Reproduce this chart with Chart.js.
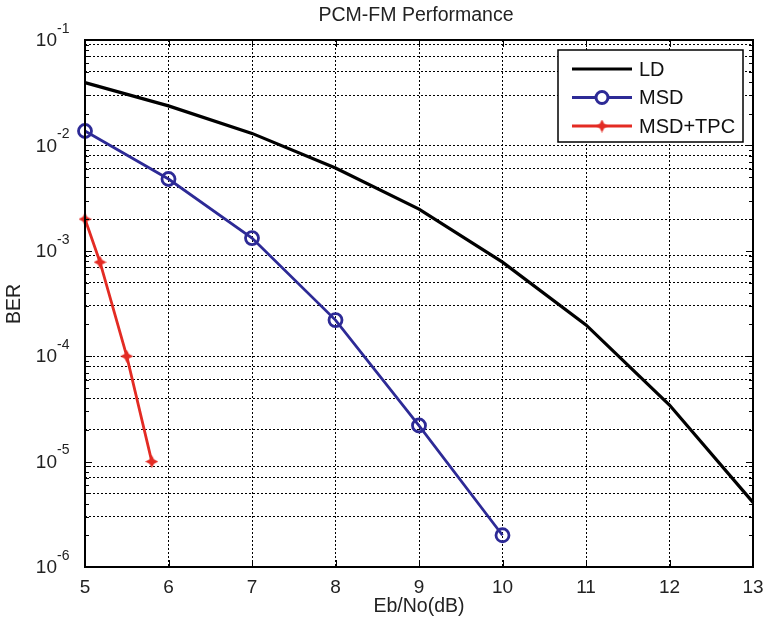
<!DOCTYPE html>
<html>
<head>
<meta charset="utf-8">
<script src="https://cdn.jsdelivr.net/npm/chart.js@4"></script>
<style>
  html, body { margin: 0; padding: 0; background: #fff; }
  #wrap { width: 766px; height: 624px; }
</style>
</head>
<body>
<div id="wrap"><canvas id="chart" width="766" height="624"></canvas></div>
<script>
/* PCM-FM BER curves */

const ebno = [5, 6, 7, 8, 9, 10, 11, 12, 13];
const berLD = [0.0394, 0.0237, 0.0130, 0.0061, 0.00249, 0.00078, 0.000198, 3.44e-5, 4.1e-6];

const ebnoMSD = [5, 6, 7, 8, 9, 10];
const berMSD = [0.0137, 0.0048, 0.00132, 0.00022, 2.2e-5, 2.0e-6];

const ebnoTPC = [5, 5.18, 5.5, 5.8];
const berTPC = [0.002, 0.00078, 1e-4, 1e-5];

const xTicks = [5, 6, 7, 8, 9, 10, 11, 12, 13];
const decades = [-6, -5, -4, -3, -2, -1];

const FONT = "'Liberation Sans', Arial, Helvetica, sans-serif";
const BLUE = "#2d2a96";
const RED = "#e32b23";

// y grid values: 1..9 x 10^n
const yTicks = [];
decades.forEach(n => {
  if (n === -1) { yTicks.push(0.1); return; }
  for (let k = 1; k <= 9; k++) yTicks.push(+(k * Math.pow(10, n)).toPrecision(3));
});

// 4-point star marker
function starMarker(color, size) {
  const c = document.createElement("canvas");
  c.width = size; c.height = size;
  const g = c.getContext("2d");
  const h = size / 2, w = size * 0.17;
  g.fillStyle = color;
  g.beginPath();
  g.moveTo(h, 0); g.lineTo(h + w, h - w); g.lineTo(size, h); g.lineTo(h + w, h + w);
  g.lineTo(h, size); g.lineTo(h - w, h + w); g.lineTo(0, h); g.lineTo(h - w, h - w);
  g.closePath(); g.fill();
  return c;
}
const star = starMarker(RED, 13);

function pts(xs, ys) { return xs.map((x, i) => ({ x: x, y: ys[i] })); }

const decor = {
  id: "decor",
  afterDraw(chart) {
    const ctx = chart.ctx, a = chart.chartArea;
    const xs = chart.scales.x, ys = chart.scales.y;
    ctx.save();

    // inner tick marks
    ctx.strokeStyle = "#000"; ctx.lineWidth = 1;
    ctx.beginPath();
    xTicks.forEach(v => {
      const px = Math.round(xs.getPixelForValue(v)) + 0.5;
      ctx.moveTo(px, a.bottom); ctx.lineTo(px, a.bottom - 7);
      ctx.moveTo(px, a.top); ctx.lineTo(px, a.top + 7);
    });
    yTicks.forEach(v => {
      const py = Math.round(ys.getPixelForValue(v)) + 0.5;
      const major = Math.abs(Math.log10(v) - Math.round(Math.log10(v))) < 1e-6;
      const L = major ? 7 : 4;
      ctx.moveTo(a.left, py); ctx.lineTo(a.left + L, py);
      ctx.moveTo(a.right, py); ctx.lineTo(a.right - L, py);
    });
    ctx.stroke();

    // axes box
    ctx.lineWidth = 2;
    ctx.strokeRect(a.left, a.top, a.right - a.left, a.bottom - a.top);

    // y tick labels 10^n
    ctx.fillStyle = "#222";
    decades.forEach(n => {
      const py = ys.getPixelForValue(Math.pow(10, n));
      ctx.font = "19px " + FONT;
      ctx.textAlign = "right"; ctx.textBaseline = "middle";
      ctx.fillText("10", 57, py + 1);
      ctx.font = "14px " + FONT;
      ctx.textAlign = "left";
      ctx.fillText(String(n), 57, py - 11);
    });

    // title and axis labels
    ctx.font = "19.5px " + FONT;
    ctx.textAlign = "center"; ctx.textBaseline = "middle";
    ctx.fillText("PCM-FM Performance", 416, 16);
    ctx.fillText("Eb/No(dB)", 419, 607);
    ctx.save();
    ctx.translate(15, 304); ctx.rotate(-Math.PI / 2);
    ctx.fillText("BER", 0, 0);
    ctx.restore();

    // legend
    const lx = 558, ly = 50, lw = 185, lh = 92;
    ctx.fillStyle = "#fff";
    ctx.fillRect(lx, ly, lw, lh);
    ctx.strokeStyle = "#000"; ctx.lineWidth = 1.5;
    ctx.strokeRect(lx, ly, lw, lh);
    const items = [
      { label: "LD", color: "#000", mark: null },
      { label: "MSD", color: BLUE, mark: "circle" },
      { label: "MSD+TPC", color: RED, mark: "star" }
    ];
    items.forEach((it, i) => {
      const y = 69 + i * 28.5;
      ctx.strokeStyle = it.color; ctx.lineWidth = 3;
      ctx.beginPath(); ctx.moveTo(572, y); ctx.lineTo(632, y); ctx.stroke();
      if (it.mark === "circle") {
        ctx.fillStyle = "#fff";
        ctx.beginPath(); ctx.arc(602, y, 6, 0, Math.PI * 2); ctx.fill(); ctx.stroke();
      } else if (it.mark === "star") {
        ctx.drawImage(star, 602 - 6.5, y - 6.5);
      }
      ctx.fillStyle = "#111";
      ctx.font = "20px " + FONT;
      ctx.textAlign = "left"; ctx.textBaseline = "middle";
      ctx.fillText(it.label, 639, y + 1);
    });

    ctx.restore();
  }
};

new Chart(document.getElementById("chart"), {
  type: "line",
  data: {
    datasets: [
      {
        label: "LD", data: pts(ebno, berLD),
        borderColor: "#000", borderWidth: 3.2, pointRadius: 0, clip: false
      },
      {
        label: "MSD", data: pts(ebnoMSD, berMSD),
        borderColor: BLUE, borderWidth: 2.8, pointRadius: 6.5, pointBorderWidth: 2.8,
        pointBackgroundColor: "rgba(0,0,0,0)", pointBorderColor: BLUE, clip: false
      },
      {
        label: "MSD+TPC", data: pts(ebnoTPC, berTPC),
        borderColor: RED, borderWidth: 2.8, pointStyle: star, pointRadius: 6.5, clip: false
      }
    ]
  },
  options: {
    responsive: false,
    animation: false,
    layout: { padding: { left: 0, right: 13, top: 40, bottom: 0 } },
    plugins: { legend: { display: false }, title: { display: false }, tooltip: { enabled: false } },
    scales: {
      x: {
        type: "linear", min: 5, max: 13,
        afterBuildTicks: s => { s.ticks = xTicks.map(v => ({ value: v })); },
        afterFit: s => { s.height = 57; s.paddingLeft = 0; s.paddingRight = 0; },
        grid: { color: "#000", lineWidth: 1, drawTicks: false },
        border: { display: false, dash: [2, 2] },
        ticks: { color: "#222", padding: 9, font: { family: FONT, size: 19 } }
      },
      y: {
        type: "logarithmic", min: 1e-6, max: 0.1,
        afterBuildTicks: s => { s.ticks = yTicks.map(v => ({ value: v })); },
        afterFit: s => { s.width = 85; s.paddingTop = 0; s.paddingBottom = 0; },
        grid: { color: "#000", lineWidth: 1, drawTicks: false },
        border: { display: false, dash: [2, 2] },
        ticks: { callback: () => "", padding: 0 }
      }
    }
  },
  plugins: [decor]
});
</script>
</body>
</html>
